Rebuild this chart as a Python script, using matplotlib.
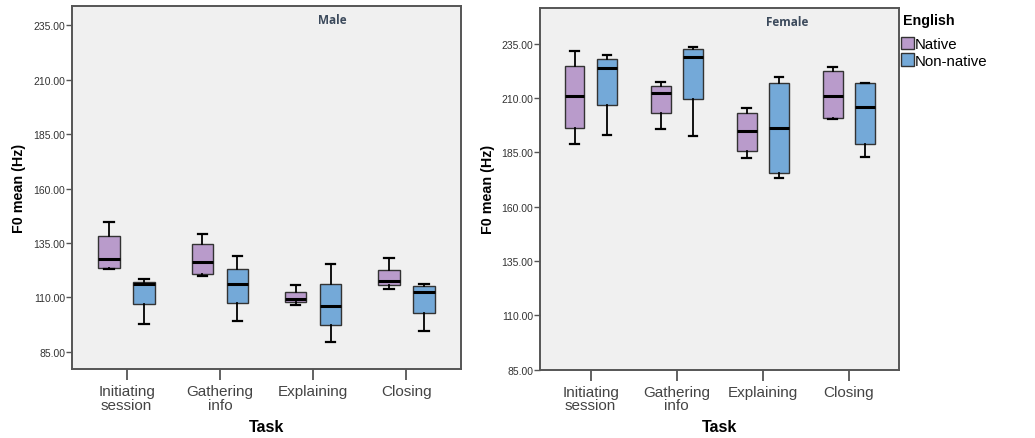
import matplotlib
matplotlib.use("Agg")
import matplotlib.pyplot as plt
from matplotlib.patches import Patch

tasks = ["Initiating\nsession", "Gathering\ninfo", "Explaining", "Closing"]
groups = ["Native", "Non-native"]
yticks = [85, 110, 135, 160, 185, 210, 235]

# Male, native speakers
male_nat_lo  = [123.1, 119.7, 106.5, 114.0]
male_nat_q1  = [123.7, 120.8, 107.7, 115.7]
male_nat_med = [127.8, 126.1, 109.4, 117.4]
male_nat_q3  = [138.1, 134.4, 112.5, 122.6]
male_nat_hi  = [144.8, 139.3, 115.7, 128.1]
# Male, non-native speakers
male_non_lo  = [97.9, 99.2, 89.4, 94.7]
male_non_q1  = [106.8, 107.6, 97.2, 102.8]
male_non_med = [116.0, 116.3, 106.1, 112.5]
male_non_q3  = [117.2, 122.9, 116.0, 115.2]
male_non_hi  = [118.2, 129.2, 125.4, 115.9]
# Female, native speakers
fem_nat_lo  = [188.7, 195.7, 182.2, 200.3]
fem_nat_q1  = [196.3, 203.3, 185.6, 201.0]
fem_nat_med = [210.9, 212.3, 194.8, 210.9]
fem_nat_q3  = [224.6, 215.4, 203.1, 222.4]
fem_nat_hi  = [231.5, 217.4, 205.6, 224.3]
# Female, non-native speakers
fem_non_lo  = [192.8, 192.7, 173.2, 182.9]
fem_non_q1  = [206.9, 209.5, 175.6, 189.0]
fem_non_med = [223.7, 228.7, 196.2, 206.0]
fem_non_q3  = [227.8, 232.4, 217.1, 216.7]
fem_non_hi  = [229.8, 233.3, 219.7, 217.1]

colors = ["#B99BCB", "#74A9D8"]

plt.rcParams['font.family'] = ['Liberation Sans', 'DejaVu Sans']

fig = plt.figure(figsize=(10.35, 4.39), dpi=100)
ax1 = fig.add_axes([72/1035, 1-370/439, (461-72)/1035, (370-7)/439])
ax2 = fig.add_axes([540.3/1035, 1-370.7/439, (899.3-540.3)/1035, (370.7-9)/439])


def stats(lo, q1, med, q3, hi):
    return [dict(whislo=a, q1=b, med=c, q3=d, whishi=e, fliers=[])
            for a, b, c, d, e in zip(lo, q1, med, q3, hi)]


def draw(ax, nat, non, title, tx, ylim):
    ax.set_facecolor("#F0F0F0")
    for k, (st, off) in enumerate([(nat, -0.1875), (non, 0.1875)]):
        pos = [i + off for i in range(len(tasks))]
        ax.bxp(st, positions=pos, widths=0.23, capwidths=0.1, patch_artist=True,
               showfliers=False,
               boxprops=dict(facecolor=colors[k], edgecolor="#333333", linewidth=1.0),
               medianprops=dict(color="black", linewidth=2.2),
               whiskerprops=dict(color="black", linewidth=1.3),
               capprops=dict(color="black", linewidth=1.6))
    ax.set_xlim(-0.585, 3.585)
    ax.set_ylim(*ylim)
    ax.set_yticks(yticks)
    ax.set_yticklabels([f"{v:.2f}" for v in yticks], fontsize=7.5, color="#333333")
    ax.set_xticks(range(len(tasks)))
    ax.set_xticklabels(tasks, fontsize=11, color="#444444", linespacing=0.95)
    ax.tick_params(axis="y", direction="out", length=4, width=1, color="#555555", pad=1)
    ax.tick_params(axis="x", direction="out", length=8, width=1.3, color="#555555", pad=3)
    for s in ax.spines.values():
        s.set_color("#555555")
        s.set_linewidth(1.4)
    ax.set_ylabel("F0 mean (Hz)", fontsize=10.3, fontweight="bold", labelpad=5)
    ax.set_xlabel("Task", fontsize=11.5, fontweight="bold", labelpad=5)
    ax.text(tx, 0.98, title, transform=ax.transAxes, ha="center", va="top",
            fontsize=8.5, fontweight="bold", color="#3C4A5C", family="Open Sans")


draw(ax1, stats(male_nat_lo, male_nat_q1, male_nat_med, male_nat_q3, male_nat_hi),
     stats(male_non_lo, male_non_q1, male_non_med, male_non_q3, male_non_hi),
     "Male", (332-72)/389, (77.05, 243.9))
draw(ax2, stats(fem_nat_lo, fem_nat_q1, fem_nat_med, fem_nat_q3, fem_nat_hi),
     stats(fem_non_lo, fem_non_q1, fem_non_med, fem_non_q3, fem_non_hi),
     "Female", (786.7-540.3)/359, (85, 251.4))

fig.text(903/1035, 1-21/439, "English", ha="left", va="center",
         fontsize=10.3, fontweight="bold")
handles = [Patch(facecolor=c, edgecolor="#333333", linewidth=1.0) for c in colors]
leg = fig.legend(handles, groups, loc="upper left", bbox_to_anchor=(901/1035, 1-38/439),
                 frameon=False, fontsize=10.8,
                 handlelength=0.87, handleheight=0.87, handletextpad=0.05,
                 labelspacing=0.14, borderaxespad=0, borderpad=0)

fig.savefig("out.png", dpi=100)
